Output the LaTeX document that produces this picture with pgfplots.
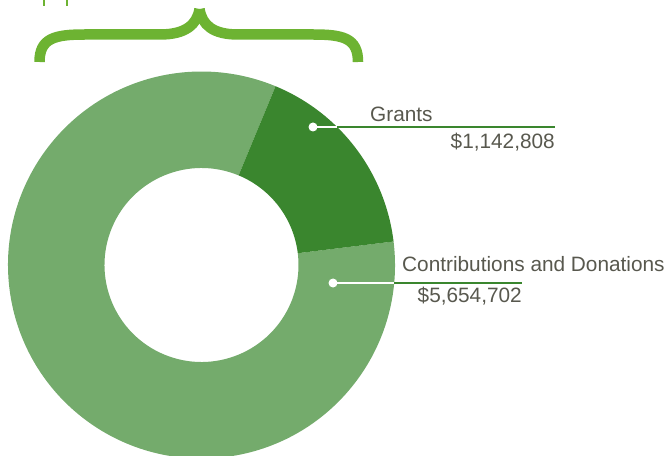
\documentclass[border=0pt]{standalone}
\usepackage{pgfplots}
\pgfplotsset{compat=1.18}
\usepackage{fontspec}
\setmainfont{Liberation Sans}
\definecolor{lightslice}{RGB}{116,171,108}
\definecolor{darkslice}{RGB}{58,134,46}
\definecolor{bracegreen}{RGB}{109,179,50}
\definecolor{txt}{RGB}{88,88,78}
% data
\def\valGrants{1142808}
\def\valContrib{5654702}
\edef\angG{\fpeval{360*\valGrants/(\valGrants+\valContrib)}}
\def\aStart{67.5}
\edef\aEnd{\fpeval{\aStart-\angG}}
\edef\aCEnd{\fpeval{\aStart-360}}
\def\cx{201.5}\def\cy{190}\def\Ro{193.5}\def\Ri{97}
\newcommand\donutslice[3]{%
  \fill[#1] (axis cs:{\cx+\Ro*cos(#2)},{\cy+\Ro*sin(#2)})
    arc[start angle=#2,end angle=#3,radius=\Ro pt]
    -- (axis cs:{\cx+\Ri*cos(#3)},{\cy+\Ri*sin(#3)})
    arc[start angle=#3,end angle=#2,radius=\Ri pt] -- cycle;}
\begin{document}
\begin{tikzpicture}
\useasboundingbox (0,0) rectangle (671pt,455pt);
\clip (0,0) rectangle (671pt,455pt);
\begin{axis}[x=1pt,y=1pt,xmin=0,xmax=671,ymin=0,ymax=455,hide axis,clip=false,
  at={(0,0)},anchor=south west]
\donutslice{lightslice}{\aEnd}{\aCEnd}
\donutslice{darkslice}{\aStart}{\aEnd}
% brace
\draw[bracegreen,line width=10.5pt,line cap=butt]
  (axis cs:39.5,393) .. controls (axis cs:39.5,417) and (axis cs:55,420.5) .. (axis cs:85,420.5)
  -- (axis cs:160,420.5) .. controls (axis cs:185,420.5) and (axis cs:197,430) .. (axis cs:199.5,446);
\draw[bracegreen,line width=10.5pt,line cap=butt]
  (axis cs:358,393) .. controls (axis cs:358,417) and (axis cs:343,420.5) .. (axis cs:313,420.5)
  -- (axis cs:238,420.5) .. controls (axis cs:213,420.5) and (axis cs:202,430) .. (axis cs:199.5,446);
\draw[bracegreen,line width=1.5pt] (axis cs:44,455) -- (axis cs:44,449);
\draw[bracegreen,line width=1.5pt] (axis cs:67,455) -- (axis cs:67,449);
% label lines
\draw[white,line width=2.5pt] (axis cs:313,328) -- (axis cs:337,328);
\draw[darkslice,line width=2.5pt] (axis cs:337,328) -- (axis cs:555,328);
\fill[white] (axis cs:313,328) circle[radius=4.5pt];
\draw[white,line width=2.5pt] (axis cs:333,172) -- (axis cs:394,172);
\draw[darkslice,line width=2.5pt] (axis cs:394,172) -- (axis cs:522,172);
\fill[white] (axis cs:333,172) circle[radius=4.5pt];
% labels
\node[anchor=base west,inner sep=0,text=txt,font=\fontsize{20.8}{24}\selectfont] at (axis cs:370,333) {Grants};
\node[anchor=base east,inner sep=0,text=txt,font=\fontsize{20.8}{24}\selectfont] at (axis cs:555,306) {\$1,142,808};
\node[anchor=base west,inner sep=0,text=txt,font=\fontsize{20.8}{24}\selectfont] at (axis cs:402,183) {Contributions and Donations};
\node[anchor=base east,inner sep=0,text=txt,font=\fontsize{20.8}{24}\selectfont] at (axis cs:522,153) {\$5,654,702};
\end{axis}
\end{tikzpicture}
\end{document}
